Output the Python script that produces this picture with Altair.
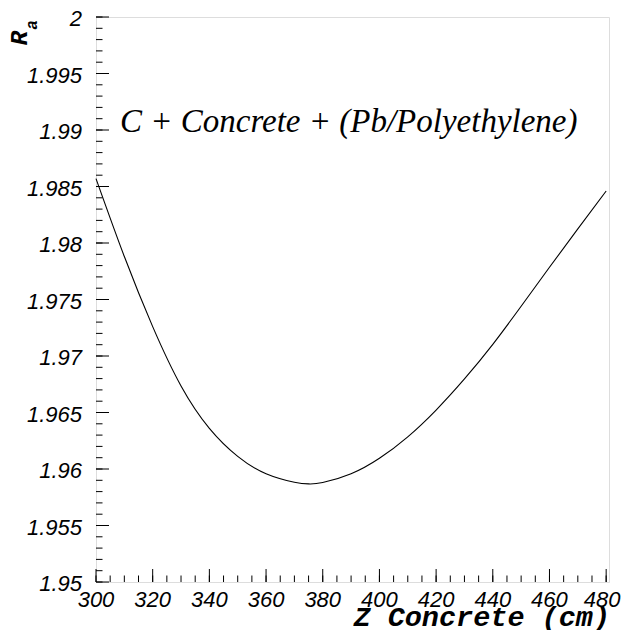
import altair as alt
import pandas as pd

# ---- data ----
z_cm = [300, 310, 320, 330, 340, 350, 360, 370, 375, 380, 390, 400, 410, 420, 430, 440, 450, 460, 470, 480]
r_a = [1.98570, 1.97880, 1.97260, 1.96735, 1.96360, 1.96112, 1.95957, 1.95883, 1.95868, 1.95880,
       1.95958, 1.96095, 1.96285, 1.96522, 1.96797, 1.97103, 1.97440, 1.97785, 1.98125, 1.98460]

y_major = [round(1.95 + 0.005 * i, 3) for i in range(11)]
y_labels = [f"{v:g}" for v in y_major]
y_minor = [round(1.95 + 0.001 * i, 3) for i in range(51)]
x_major = [300 + 20 * i for i in range(10)]
x_labels = [str(v) for v in x_major]
x_minor = [300 + 5 * i for i in range(37)]

annotation = "C + Concrete + (Pb/Polyethylene)"
x_title = "Z Concrete (cm)"

W, H = 513, 565
XDOM = [300, 481]
YDOM = [1.95, 2.0]

xs = alt.Scale(domain=XDOM, nice=False, zero=False)
ys = alt.Scale(domain=YDOM, nice=False, zero=False)

LABEL_FONT = "Liberation Sans, Arial, Helvetica, sans-serif"
MONO = "Liberation Mono, Courier New, monospace"

curve_df = pd.DataFrame({"z": z_cm, "r": r_a})

curve = alt.Chart(curve_df).mark_line(color="black", strokeWidth=1.1, interpolate="natural").encode(
    x=alt.X("z:Q", scale=xs, axis=None),
    y=alt.Y("r:Q", scale=ys, axis=None),
)

ymaj = alt.Chart(pd.DataFrame({"v": y_major})).mark_rule(color="black", strokeWidth=1).encode(
    y=alt.Y("v:Q", scale=ys, axis=None), x=alt.value(0), x2=alt.value(13))
ymin = alt.Chart(pd.DataFrame({"v": y_minor})).mark_rule(color="black", strokeWidth=1).encode(
    y=alt.Y("v:Q", scale=ys, axis=None), x=alt.value(0), x2=alt.value(6.5))
xmaj = alt.Chart(pd.DataFrame({"v": x_major})).mark_rule(color="black", strokeWidth=1).encode(
    x=alt.X("v:Q", scale=xs, axis=None), y=alt.value(H), y2=alt.value(H - 13))
xmin = alt.Chart(pd.DataFrame({"v": x_minor})).mark_rule(color="black", strokeWidth=1).encode(
    x=alt.X("v:Q", scale=xs, axis=None), y=alt.value(H), y2=alt.value(H - 6.5))

ylab = alt.Chart(pd.DataFrame({"v": y_major, "t": y_labels})).mark_text(
    font=LABEL_FONT, fontStyle="italic", fontSize=22, align="right", baseline="middle",
    color="black", dy=2).encode(y=alt.Y("v:Q", scale=ys, axis=None), x=alt.value(-14), text="t:N")
xlab = alt.Chart(pd.DataFrame({"v": x_major[:-1], "t": x_labels[:-1]})).mark_text(
    font=LABEL_FONT, fontStyle="italic", fontSize=22, align="center", baseline="middle",
    color="black").encode(x=alt.X("v:Q", scale=xs, axis=None), y=alt.value(H + 18), text="t:N")
xlab_last = alt.Chart(pd.DataFrame({"v": x_major[-1:], "t": x_labels[-1:]})).mark_text(
    font=LABEL_FONT, fontStyle="italic", fontSize=22, align="center", baseline="middle",
    color="black", dx=-4).encode(x=alt.X("v:Q", scale=xs, axis=None), y=alt.value(H + 18), text="t:N")

ann = alt.Chart(pd.DataFrame({"t": [annotation]})).mark_text(
    font="Liberation Serif, Times New Roman, Times, serif", fontStyle="italic", fontSize=33,
    align="left", baseline="alphabetic", color="black").encode(text="t:N", x=alt.value(24), y=alt.value(115))

xt = alt.Chart(pd.DataFrame({"t": [x_title]})).mark_text(
    font=MONO, fontStyle="italic", fontWeight="bold", fontSize=28.5,
    align="right", baseline="alphabetic", color="black").encode(text="t:N", x=alt.value(514), y=alt.value(609))

yt_r = alt.Chart(pd.DataFrame({"t": ["R"]})).mark_text(
    font=MONO, fontStyle="italic", fontWeight="bold", fontSize=24,
    align="center", baseline="middle", angle=270, color="black").encode(text="t:N", x=alt.value(-76), y=alt.value(21))
yt_a = alt.Chart(pd.DataFrame({"t": ["a"]})).mark_text(
    font=MONO, fontStyle="italic", fontWeight="bold", fontSize=16,
    align="center", baseline="middle", angle=270, color="black").encode(text="t:N", x=alt.value(-64), y=alt.value(8))

chart = alt.layer(ymin, ymaj, xmin, xmaj, curve, ylab, xlab, xlab_last, ann, xt, yt_r, yt_a).properties(
    width=W, height=H,
    autosize=alt.AutoSizeParams(type="none"),
    padding={"left": 88, "top": 9, "right": 12, "bottom": 48},
).configure_view(stroke="black", strokeWidth=1).configure(background="white")

chart.save("out.html", embed_options={"renderer": "svg", "actions": False})
